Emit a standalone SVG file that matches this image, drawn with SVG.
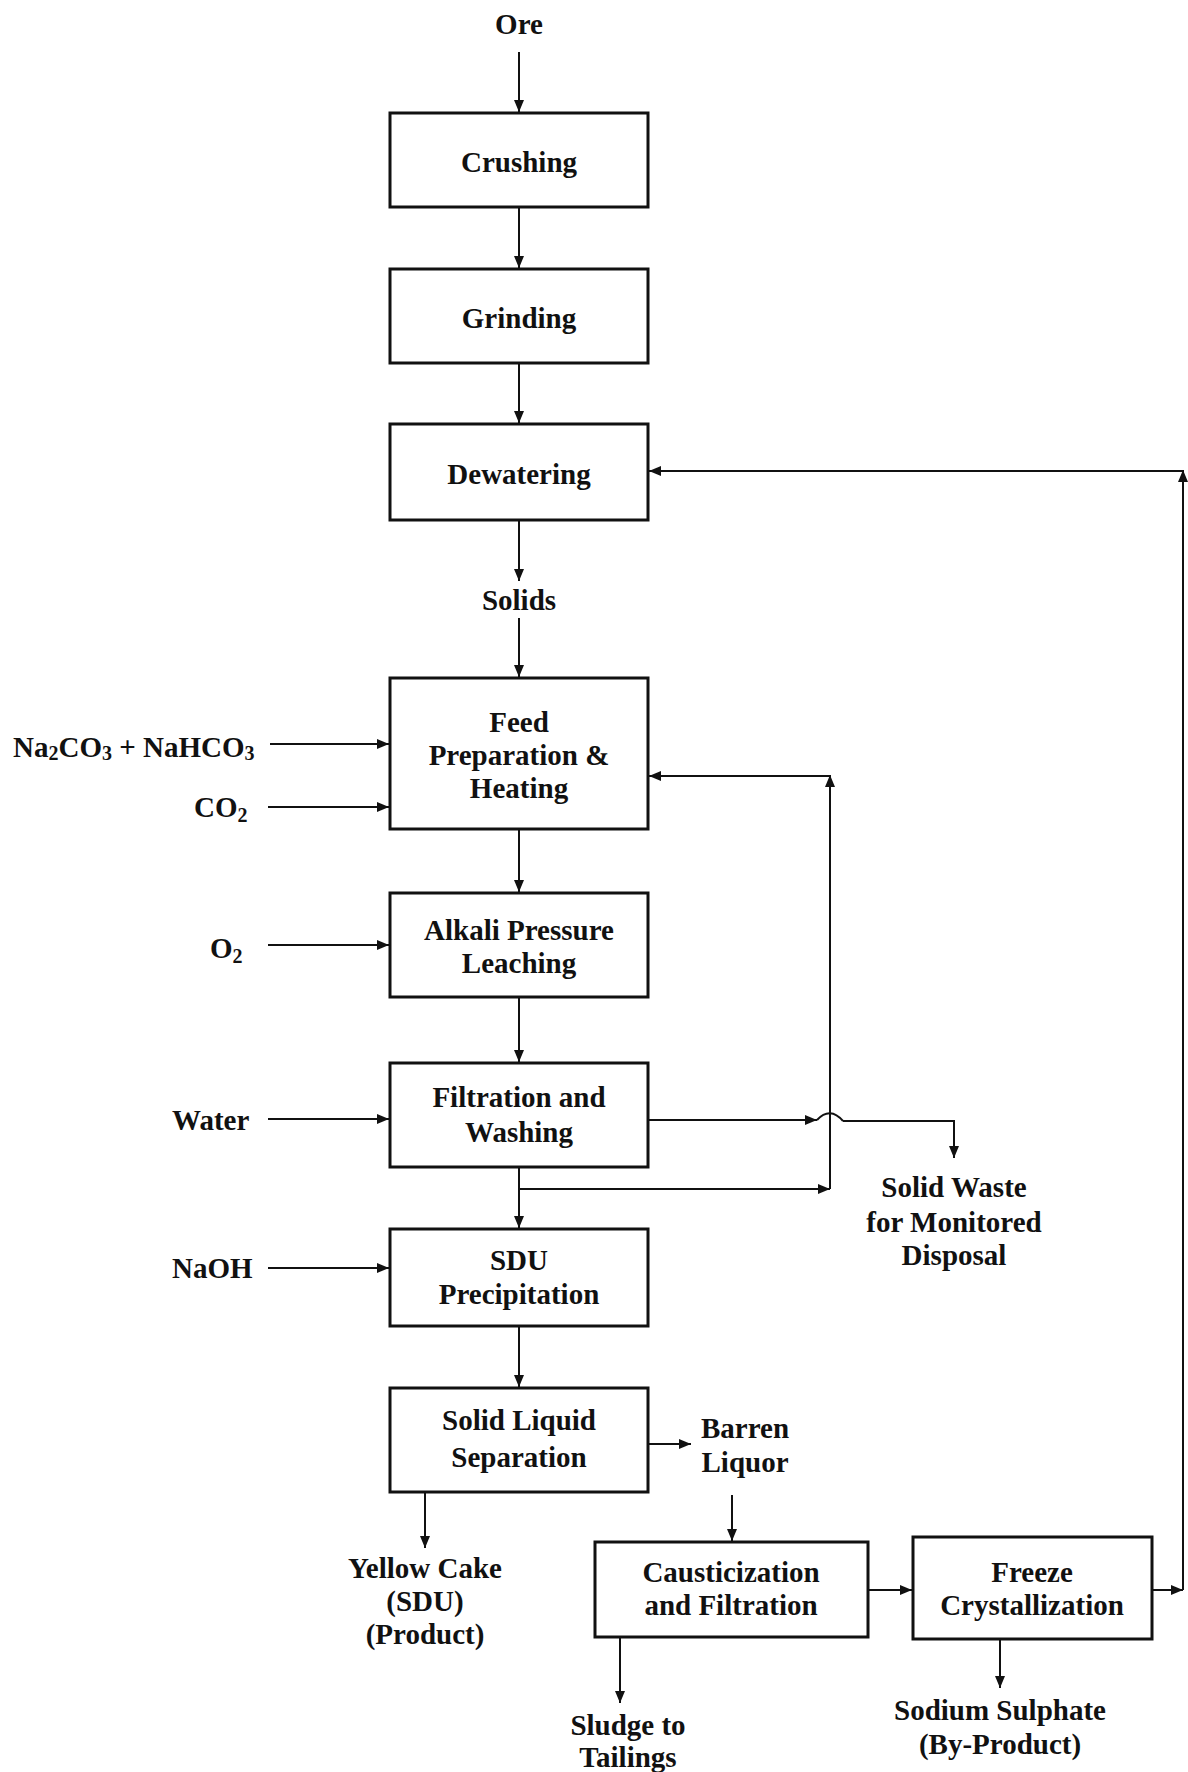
<svg xmlns="http://www.w3.org/2000/svg" width="1188" height="1772" viewBox="0 0 1188 1772">
<style>
.box{fill:#fff;stroke:#111;stroke-width:3}
.t{font-family:"Liberation Serif","Times New Roman",serif;font-weight:bold;font-size:29px;fill:#111;text-anchor:middle}
.l{font-family:"Liberation Serif","Times New Roman",serif;font-weight:bold;font-size:29px;fill:#111}
.c{fill:none;stroke:#111;stroke-width:2}
.a{marker-end:url(#ah)}
</style>
<defs>
<marker id="ah" viewBox="0 0 12 10" refX="12" refY="5" markerWidth="12" markerHeight="10" orient="auto" markerUnits="userSpaceOnUse"><path d="M0,0 L12,5 L0,10 z" fill="#111"/></marker>
</defs>
<rect width="1188" height="1772" fill="#fff"/>
<g id="connectors">
<line class="c a" x1="519" y1="52" x2="519" y2="112"/>
<line class="c a" x1="519" y1="207" x2="519" y2="268"/>
<line class="c a" x1="519" y1="363" x2="519" y2="423"/>
<line class="c a" x1="519" y1="520" x2="519" y2="581"/>
<line class="c a" x1="519" y1="618" x2="519" y2="677"/>
<line class="c a" x1="519" y1="829" x2="519" y2="892"/>
<line class="c a" x1="519" y1="997" x2="519" y2="1062"/>
<line class="c a" x1="519" y1="1167" x2="519" y2="1228"/>
<line class="c a" x1="519" y1="1326" x2="519" y2="1387"/>
<line class="c a" x1="270" y1="744" x2="389" y2="744"/>
<line class="c a" x1="268" y1="807" x2="389" y2="807"/>
<line class="c a" x1="268" y1="945" x2="389" y2="945"/>
<line class="c a" x1="268" y1="1119" x2="389" y2="1119"/>
<line class="c a" x1="268" y1="1268" x2="389" y2="1268"/>
<line class="c a" x1="519" y1="1189" x2="830" y2="1189"/>
<line class="c a" x1="830" y1="1189" x2="830" y2="775"/>
<line class="c a" x1="830" y1="776" x2="649" y2="776"/>
<line class="c a" x1="648" y1="1120" x2="817" y2="1120"/>
<path class="c" d="M817,1120 Q830,1106 843,1121"/>
<polyline class="c a" points="843,1121 954,1121 954,1158"/>
<line class="c a" x1="648" y1="1444" x2="691" y2="1444"/>
<line class="c a" x1="732" y1="1495" x2="732" y2="1541"/>
<line class="c a" x1="425" y1="1492" x2="425" y2="1548"/>
<line class="c a" x1="868" y1="1590" x2="912" y2="1590"/>
<line class="c a" x1="620" y1="1637" x2="620" y2="1703"/>
<line class="c a" x1="1000" y1="1639" x2="1000" y2="1688"/>
<line class="c a" x1="1152" y1="1590" x2="1183" y2="1590"/>
<line class="c a" x1="1183" y1="1590" x2="1183" y2="470"/>
<line class="c a" x1="1183" y1="471" x2="649" y2="471"/>
</g>
<g id="ore"><text class="t" x="519" y="34">Ore</text></g>
<g id="crushing"><rect class="box" x="390" y="113" width="258" height="94"/><text class="t" x="519" y="172">Crushing</text></g>
<g id="grinding"><rect class="box" x="390" y="269" width="258" height="94"/><text class="t" x="519" y="328">Grinding</text></g>
<g id="dewatering"><rect class="box" x="390" y="424" width="258" height="96"/><text class="t" x="519" y="484">Dewatering</text></g>
<g id="solids"><text class="t" x="519" y="610">Solids</text></g>
<g id="feed"><rect class="box" x="390" y="678" width="258" height="151"/><text class="t" x="519" y="732">Feed</text><text class="t" x="519" y="765">Preparation &amp;</text><text class="t" x="519" y="798">Heating</text></g>
<g id="alkali"><rect class="box" x="390" y="893" width="258" height="104"/><text class="t" x="519" y="940">Alkali Pressure</text><text class="t" x="519" y="973">Leaching</text></g>
<g id="filtration"><rect class="box" x="390" y="1063" width="258" height="104"/><text class="t" x="519" y="1107">Filtration and</text><text class="t" x="519" y="1142">Washing</text></g>
<g id="sdu"><rect class="box" x="390" y="1229" width="258" height="97"/><text class="t" x="519" y="1270">SDU</text><text class="t" x="519" y="1304">Precipitation</text></g>
<g id="solidliquid"><rect class="box" x="390" y="1388" width="258" height="104"/><text class="t" x="519" y="1430">Solid Liquid</text><text class="t" x="519" y="1467">Separation</text></g>
<g id="causticization"><rect class="box" x="595" y="1542" width="273" height="95"/><text class="t" x="731" y="1582">Causticization</text><text class="t" x="731" y="1615">and Filtration</text></g>
<g id="freeze"><rect class="box" x="913" y="1537" width="239" height="102"/><text class="t" x="1032" y="1582">Freeze</text><text class="t" x="1032" y="1615">Crystallization</text></g>
<g id="na2co3"><text class="l" x="13" y="757">Na<tspan font-size="20" dy="3">2</tspan><tspan dy="-3">CO</tspan><tspan font-size="20" dy="3">3</tspan><tspan dy="-3"> + NaHCO</tspan><tspan font-size="20" dy="3">3</tspan></text></g>
<g id="co2"><text class="l" x="194" y="817">CO<tspan font-size="20" dy="5">2</tspan></text></g>
<g id="o2"><text class="l" x="210" y="958">O<tspan font-size="20" dy="5">2</tspan></text></g>
<g id="water"><text class="l" x="172" y="1130">Water</text></g>
<g id="naoh"><text class="l" x="172" y="1278">NaOH</text></g>
<g id="solidwaste"><text class="t" x="954" y="1197">Solid Waste</text><text class="t" x="954" y="1232">for Monitored</text><text class="t" x="954" y="1265">Disposal</text></g>
<g id="barren"><text class="t" x="745" y="1438">Barren</text><text class="t" x="745" y="1472">Liquor</text></g>
<g id="yellowcake"><text class="t" x="425" y="1578">Yellow Cake</text><text class="t" x="425" y="1611">(SDU)</text><text class="t" x="425" y="1644">(Product)</text></g>
<g id="sludge"><text class="t" x="628" y="1735">Sludge to</text><text class="t" x="628" y="1767">Tailings</text></g>
<g id="sodium"><text class="t" x="1000" y="1720">Sodium Sulphate</text><text class="t" x="1000" y="1754">(By-Product)</text></g>
</svg>
